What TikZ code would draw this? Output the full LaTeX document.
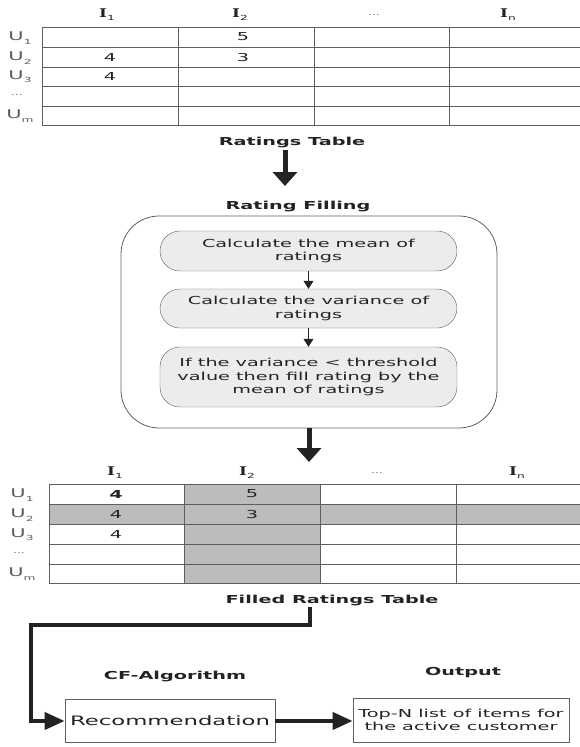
\documentclass[tikz,border=0pt]{standalone}
\usepackage{fontspec}
\usepackage{tikz}
\usetikzlibrary{arrows.meta}
\setmainfont[FakeStretch=1.75]{DejaVu Sans}
\newfontfamily\slabfont[FakeStretch=1.4]{DejaVu Serif}
\definecolor{inkgray}{RGB}{35, 35, 35}
\definecolor{gridgray}{RGB}{95, 95, 95}
\definecolor{shadegray}{RGB}{188, 188, 188}
\definecolor{pillgray}{RGB}{236, 236, 236}
\newcommand{\usr}[1]{U\raisebox{-.5ex}{\scriptsize #1}}
\newcommand{\itm}[1]{{\fontsize{12}{14}\slabfont\bfseries I}\raisebox{-.5ex}{\scriptsize #1}}

\begin{document}
\begin{tikzpicture}[
    x=1pt, y=-1pt,
    font=\fontsize{11}{13.3}\selectfont,
    text=inkgray,
    tablegrid/.style={draw=gridgray, line width=0.8pt},
    cell/.style={inner sep=0pt},
    rowlbl/.style={inner sep=0pt, text=gridgray, font=\fontsize{12}{14}\selectfont},
    heading/.style={inner sep=1pt, font=\fontsize{11}{13}\selectfont\bfseries},
    pill/.style={draw=gridgray, fill=pillgray, rounded corners=20pt, minimum width=297pt, align=center, inner sep=2pt},
    outbox/.style={draw=gridgray, line width=0.8pt, align=center, inner sep=2pt},
    bigarrow/.style={draw=inkgray, line width=5pt, -{Triangle[length=14pt, width=24pt]}},
    thinarrow/.style={draw=inkgray, line width=0.8pt, -{Triangle[length=8pt, width=10pt]}},
    flowarrow/.style={draw=inkgray, line width=4pt, -{Triangle[length=20pt, width=17pt]}}
]
    \useasboundingbox (0,0) rectangle (580,747);

    % --- Coordinates ---
    \coordinate (arrA)  at (285, 186);
    \coordinate (arrB)  at (309, 462);
    \coordinate (stub)  at (310, 612);
    \coordinate (turn)  at (31, 625);

    % --- Ratings table (top) ---
    \draw[tablegrid] (42,27) -- (580,27) (42,47) -- (580,47) (42,67) -- (580,67)
        (42,86) -- (580,86) (42,106) -- (580,106) (42,125) -- (580,125);
    \draw[tablegrid] (42,27) -- (42,125) (178,27) -- (178,125)
        (314,27) -- (314,125) (449,27) -- (449,125);

    \node[cell] (ti1) at (107,15) {\itm{1}};
    \node[cell] (ti2) at (240,15) {\itm{2}};
    \node[cell, text=gridgray] (tidots) at (374,15) {\scriptsize ...};
    \node[cell] (tin) at (508,15) {\itm{n}};

    \node[rowlbl] (tu1) at (20,38) {\usr{1}};
    \node[rowlbl] (tu2) at (20,58) {\usr{2}};
    \node[rowlbl] (tu3) at (20,77) {\usr{3}};
    \node[rowlbl] (tudots) at (17,95) {\scriptsize ...};
    \node[rowlbl] (tum) at (20,116) {\usr{m}};

    \node[cell] (tv12) at (243,37) {5};
    \node[cell] (tv21) at (110,57) {4};
    \node[cell] (tv22) at (243,57) {3};
    \node[cell] (tv31) at (110,76) {4};

    \node[heading] (rtlbl) at (292,143) {Ratings Table};
    \draw[bigarrow] (arrA |- rtlbl.south) -- (arrA);

    % --- Rating filling ---
    \node[heading] (rflbl) at (298,207) {Rating Filling};
    \node[draw=gridgray, line width=0.8pt, rounded corners=38pt,
        minimum width=376pt, minimum height=212pt] (fillbox) at (309,322) {};

    \node[pill, minimum height=40pt] (calcmean) at (308.5,251)
        {Calculate the mean of\\ratings};
    \node[pill, minimum height=39pt] (calcvar) at (308.5,308.5)
        {Calculate the variance of\\ratings};
    \node[pill, minimum height=60pt] (thresh) at (308.5,377)
        {If the variance < threshold\\value then fill rating by the\\mean of ratings};

    \draw[thinarrow] (calcmean) -- (calcvar);
    \draw[thinarrow] (calcvar) -- (thresh);

    \draw[bigarrow] (fillbox.south) -- (arrB);

    % --- Filled ratings table (bottom) ---
    \fill[shadegray] (184,484) rectangle (320,583);
    \fill[shadegray] (49,504) rectangle (580,524);
    \draw[tablegrid] (49,484) -- (580,484) (49,504) -- (580,504) (49,524) -- (580,524)
        (49,544) -- (580,544) (49,564) -- (580,564) (49,583) -- (580,583);
    \draw[tablegrid] (49,484) -- (49,583) (184,484) -- (184,583)
        (320,484) -- (320,583) (456,484) -- (456,583);

    \node[cell] (bi1) at (115,473) {\itm{1}};
    \node[cell] (bi2) at (247,473) {\itm{2}};
    \node[cell, text=gridgray] (bidots) at (377,473) {\scriptsize ...};
    \node[cell] (bin) at (517,473) {\itm{n}};

    \node[rowlbl] (bu1) at (22,495) {\usr{1}};
    \node[rowlbl] (bu2) at (22,515) {\usr{2}};
    \node[rowlbl] (bu3) at (22,535) {\usr{3}};
    \node[rowlbl] (budots) at (19,553) {\scriptsize ...};
    \node[rowlbl] (bum) at (22,574) {\usr{m}};

    \node[cell, font=\fontsize{11}{13}\selectfont\bfseries] (bv11) at (116,494) {4};
    \node[cell] (bv12) at (252,494) {5};
    \node[cell] (bv21) at (116,514) {4};
    \node[cell] (bv22) at (252,514) {3};
    \node[cell] (bv31) at (116,534) {4};

    \node[heading] (frtlbl) at (332,600) {Filled Ratings Table};

    % --- CF algorithm and output ---
    \node[heading] (cflbl) at (175,676) {CF-Algorithm};
    \node[heading] (outlbl) at (463,673) {Output};

    \node[outbox, minimum width=210pt, minimum height=43pt,
        font=\fontsize{13}{15}\selectfont] (recbox) at (170,721) {Recommendation};
    \node[outbox, minimum width=216pt, minimum height=44pt,
        font=\fontsize{11}{13.5}\selectfont] (topn) at (461,720)
        {Top-N list of items for\\the active customer};

    \draw[flowarrow] (stub |- frtlbl.south) |- (turn) |- (recbox.west);
    \draw[flowarrow] (recbox.east) -- (recbox.east -| topn.west);

\end{tikzpicture}
\end{document}
